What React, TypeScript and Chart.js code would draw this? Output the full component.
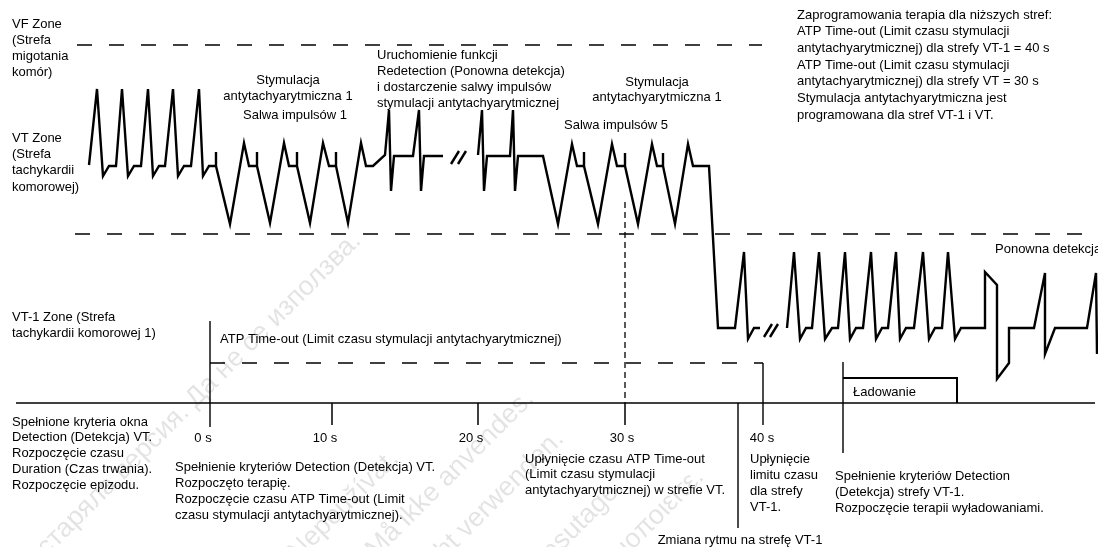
import React, { useEffect, useRef } from "react";
import { Chart, registerables } from "chart.js";
Chart.register(...registerables);

const W = 1098;
const H = 547;

// ---- ECG trace (diagram units: x along time, y downward) ----
const traceVT: number[][] = [
  [89, 165], [97, 89], [103, 176], [109, 166], [116, 166],
  [122, 89], [128, 176], [134, 166], [141, 166],
  [148, 89], [153, 176], [159, 166], [165, 166],
  [173, 89], [178, 176], [184, 166], [191, 166],
  [199, 89], [203, 176], [209, 166], [216, 166],
  [216, 152], [216, 166], [230, 224], [244, 143], [249, 166], [257, 166],
  [257, 152], [257, 166], [270, 223], [284, 143], [289, 166], [297, 166],
  [297, 152], [297, 166], [310, 223], [323, 143], [329, 166], [336, 166],
  [336, 152], [336, 166], [348, 223], [361, 143], [366, 166], [373, 166],
  [385, 155], [389, 110], [391, 191], [394, 156], [413, 156], [419, 110], [421, 191], [424, 156], [443, 156],
];
const traceVTtoVT1: number[][] = [
  [478, 155], [482, 110], [484, 191], [487, 156], [510, 156], [513, 110], [515, 191], [518, 156], [543, 156],
  [558, 224], [572, 144], [577, 166], [584, 166], [584, 152], [584, 166],
  [598, 224], [612, 144], [617, 166], [625, 166], [625, 153], [625, 166],
  [638, 224], [652, 144], [657, 166], [663, 166], [663, 153], [663, 166],
  [675, 224], [688, 144], [693, 166], [709, 166],
  [718, 328], [735, 328], [744, 252], [748, 339], [754, 328], [760, 328],
];
const traceVT1: number[][] = [
  [787, 328], [794, 252], [800, 339], [806, 328], [812, 328],
  [819, 252], [825, 339], [832, 328], [838, 328],
  [845, 252], [850, 339], [856, 328], [863, 328],
  [871, 252], [876, 339], [882, 328], [888, 328],
  [896, 252], [900, 339], [906, 328], [914, 328],
  [923, 252], [929, 339], [935, 328], [942, 328],
  [948, 252], [955, 339], [961, 328], [985, 328],
  [985, 272], [997, 285], [997, 379], [1009, 363], [1009, 328], [1034, 328],
  [1045, 273], [1045, 354], [1055, 328], [1087, 328], [1096, 273], [1097, 354],
];
const breakMarks: number[][][] = [
  [[451, 164], [459, 151]], [[458, 164], [466, 151]],
  [[764, 337], [772, 324]], [[770, 337], [778, 324]],
];

// ---- zone thresholds and time axis ----
const vfLine: number[][] = [[77, 45], [762, 45]];
const vtLine: number[][] = [[75, 234], [1090, 234]];
const atpLine: number[][] = [[210, 363], [763, 363]];
const vtTimeoutMark: number[][] = [[625, 202], [625, 403]];
const timeAxis: number[][] = [[16, 403], [1095, 403]];
const tickValues = [332, 478, 625];
const startMark: number[][] = [[210, 321], [210, 427]];
const vt1TimeoutMark: number[][] = [[763, 363], [763, 425]];
const rhythmChangeMark: number[][] = [[738, 403], [738, 528]];
const chargeMark: number[][] = [[843, 362], [843, 453]];
const chargeBox: number[][] = [[843, 378], [957, 378], [957, 403]];

const tickLabels = ["0 s", "10 s", "20 s", "30 s", "40 s"];
const tickLabelX = [203, 325, 471, 622, 762];

type Label = { lines: string[]; x: number; y: number; dy?: number; align?: CanvasTextAlign };
const labels: Label[] = [
  { lines: ["VF Zone", "(Strefa", "migotania", "komór)"], x: 12, y: 24, dy: 16 },
  { lines: ["VT Zone", "(Strefa", "tachykardii", "komorowej)"], x: 12, y: 138, dy: 16.4 },
  { lines: ["Stymulacja", "antytachyarytmiczna 1"], x: 288, y: 80, dy: 16, align: "center" },
  { lines: ["Salwa impulsów 1"], x: 295, y: 115, align: "center" },
  { lines: ["Uruchomienie funkcji", "Redetection (Ponowna detekcja)", "i dostarczenie salwy impulsów", "stymulacji antytachyarytmicznej"], x: 377, y: 55, dy: 16 },
  { lines: ["Stymulacja", "antytachyarytmiczna 1"], x: 657, y: 82, dy: 15.5, align: "center" },
  { lines: ["Salwa impulsów 5"], x: 616, y: 125, align: "center" },
  {
    lines: [
      "Zaprogramowania terapia dla niższych stref:",
      "ATP Time-out (Limit czasu stymulacji",
      "antytachyarytmicznej) dla strefy VT-1 = 40 s",
      "ATP Time-out (Limit czasu stymulacji",
      "antytachyarytmicznej) dla strefy VT = 30 s",
      "Stymulacja antytachyarytmiczna jest",
      "programowana dla stref VT-1 i VT.",
    ],
    x: 797, y: 15, dy: 16.67,
  },
  { lines: ["Ponowna detekcja"], x: 995, y: 249 },
  { lines: ["VT-1 Zone (Strefa", "tachykardii komorowej 1)"], x: 12, y: 317, dy: 16 },
  { lines: ["ATP Time-out (Limit czasu stymulacji antytachyarytmicznej)"], x: 220, y: 339 },
  { lines: ["Ładowanie"], x: 853, y: 392 },
  { lines: ["Spełnione kryteria okna", "Detection (Detekcja) VT.", "Rozpoczęcie czasu", "Duration (Czas trwania).", "Rozpoczęcie epizodu."], x: 12, y: 422, dy: 15.8 },
  { lines: ["Spełnienie kryteriów Detection (Detekcja) VT.", "Rozpoczęto terapię.", "Rozpoczęcie czasu ATP Time-out (Limit", "czasu stymulacji antytachyarytmicznej)."], x: 175, y: 467, dy: 16 },
  { lines: ["Upłynięcie czasu ATP Time-out", "(Limit czasu stymulacji", "antytachyarytmicznej) w strefie VT."], x: 525, y: 459, dy: 15.7 },
  { lines: ["Upłynięcie", "limitu czasu", "dla strefy", "VT-1."], x: 750, y: 459, dy: 16 },
  { lines: ["Spełnienie kryteriów Detection", "(Detekcja) strefy VT-1.", "Rozpoczęcie terapii wyładowaniami."], x: 835, y: 476, dy: 16 },
  { lines: ["Zmiana rytmu na strefę VT-1"], x: 740, y: 540, align: "center" },
];

const watermarkLines = [
  "Остаряла версия. Да не се използва.",
  "Zastaralá verze. Nepoužívat.",
  "Forældet version. Må ikke anvendes.",
  "Version überholt. Nicht verwenden.",
  "Aegunud versioon. Ärge kasutage.",
  "Παλιά έκδοση. Μην τη χρησιμοποιείτε.",
];
const watermarkEndX = [362, 400, 535, 565, 625, 705];
const watermarkEndY = [242, 460, 400, 440, 488, 478];

const pts = (arr: number[][]) => arr.map(([x, y]) => ({ x, y }));
const joinWithGaps = (segs: number[][][]) => {
  const out: { x: number; y: number | null }[] = [];
  segs.forEach((s, i) => {
    if (i > 0) out.push({ x: s[0][0], y: null });
    out.push(...pts(s));
  });
  return out;
};

const FONT = '13px "Liberation Sans", Arial, Helvetica, sans-serif';

const textPlugin = {
  id: "diagramText",
  beforeDatasetsDraw(chart: any) {
    const { ctx, scales } = chart;
    const sx = scales.x, sy = scales.y;
    ctx.save();
    ctx.font = '27px "Liberation Sans", Arial, sans-serif';
    ctx.fillStyle = "rgba(0,0,0,0.11)";
    ctx.textAlign = "right";
    ctx.textBaseline = "alphabetic";
    watermarkLines.forEach((t, i) => {
      ctx.save();
      ctx.translate(sx.getPixelForValue(watermarkEndX[i]), sy.getPixelForValue(watermarkEndY[i]));
      ctx.rotate(-Math.PI / 4);
      ctx.fillText(t, 0, 0);
      ctx.restore();
    });
    ctx.restore();
  },
  afterDatasetsDraw(chart: any) {
    const { ctx, scales } = chart;
    const sx = scales.x, sy = scales.y;
    ctx.save();
    ctx.font = FONT;
    ctx.fillStyle = "#000";
    ctx.textBaseline = "middle";
    for (const l of labels) {
      ctx.textAlign = l.align || "left";
      l.lines.forEach((line, i) => {
        ctx.fillText(line, sx.getPixelForValue(l.x), sy.getPixelForValue(l.y + i * (l.dy || 16)));
      });
    }
    ctx.textAlign = "center";
    tickLabels.forEach((t, i) => {
      ctx.fillText(t, sx.getPixelForValue(tickLabelX[i]), sy.getPixelForValue(438));
    });
    ctx.restore();
  },
};

export default function App() {
  const ref = useRef<HTMLCanvasElement>(null);
  useEffect(() => {
    if (!ref.current) return;
    const line = (data: any[], width: number, dash: number[] = []) => ({
      type: "line" as const,
      data,
      borderColor: "#000",
      borderWidth: width,
      borderDash: dash,
      pointRadius: 0,
      fill: false,
      tension: 0,
      spanGaps: false,
      borderJoinStyle: "miter" as const,
      borderCapStyle: "butt" as const,
    });
    const ticks = joinWithGaps(tickValues.map((v) => [[v, 403], [v, 425]]));
    const chart = new Chart(ref.current, {
      type: "line",
      data: {
        datasets: [
          line(joinWithGaps([traceVT, traceVTtoVT1, traceVT1]), 2.4),
          line(joinWithGaps(breakMarks), 2.4),
          line(pts(vfLine), 1.6, [15, 17]),
          line(pts(vtLine), 1.6, [15, 17]),
          line(pts(atpLine), 1.5, [15, 17]),
          line(pts(vtTimeoutMark), 1.3, [6, 4]),
          line(pts(timeAxis), 1.5),
          line(ticks, 1.5),
          line(pts(startMark), 1.4),
          line(pts(vt1TimeoutMark), 1.4),
          line(pts(rhythmChangeMark), 1.4),
          line(pts(chargeMark), 1.4),
          line(pts(chargeBox), 2),
        ] as any,
      },
      options: {
        animation: false,
        responsive: false,
        maintainAspectRatio: false,
        layout: { padding: 0 },
        plugins: { legend: { display: false }, tooltip: { enabled: false }, title: { display: false } },
        scales: {
          x: { type: "linear", min: 0, max: W, display: false },
          y: { type: "linear", min: 0, max: H, reverse: true, display: false },
        },
      },
      plugins: [textPlugin],
    });
    return () => chart.destroy();
  }, []);
  return (
    <div style={{ position: "absolute", left: 0, top: 0, width: W, height: H, background: "#fff" }}>
      <canvas ref={ref} width={W} height={H} style={{ width: W, height: H, display: "block" }} />
    </div>
  );
}
